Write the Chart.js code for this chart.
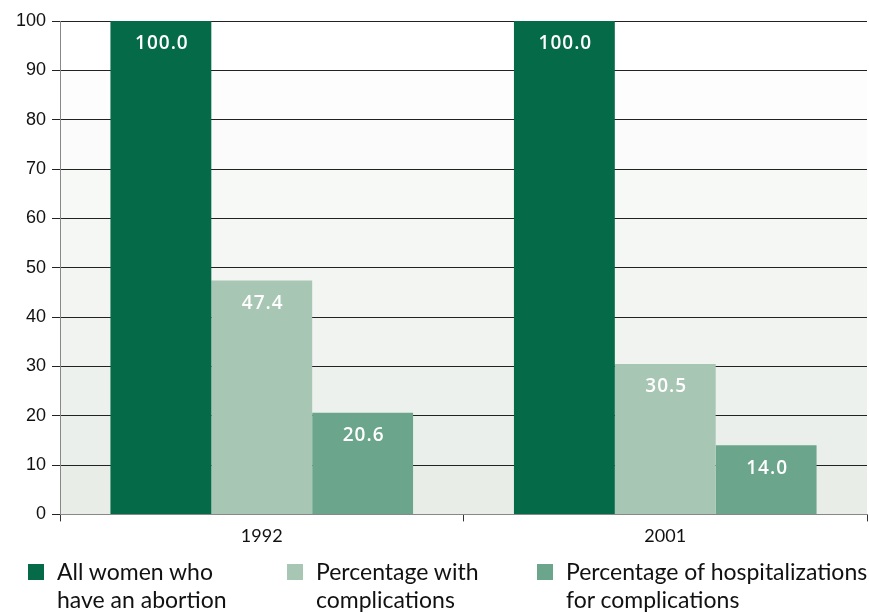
<!DOCTYPE html>
<html>
<head>
<meta charset="utf-8">
<script src="https://cdn.jsdelivr.net/npm/chart.js@4"></script>
<style>
  body { margin: 0; background: #fff; }
  #wrap { position: relative; width: 869px; height: 613px; }
  #legend { position: absolute; left: 0; top: 562px; width: 869px; height: 51px; font-family: Lato, "Open Sans", sans-serif; font-size: 23px; line-height: 28px; color: #111; }
  .item { position: absolute; top: 0; }
  .box { position: absolute; left: 0; top: 2px; width: 16px; height: 16px; }
  .txt { position: absolute; left: 29px; top: -5px; white-space: nowrap; }
</style>
</head>
<body>
<div id="wrap">
  <canvas id="chart" width="869" height="613"></canvas>
  <div id="legend"></div>
</div>
<script>
const years = ['1992', '2001'];
const allWomen = [100.0, 100.0];
const withComplications = [47.4, 30.5];
const hospitalizations = [20.6, 14.0];
const seriesNames = [
  ['All women who', 'have an abortion'],
  ['Percentage with', 'complications'],
  ['Percentage of hospitalizations', 'for complications']
];
const colors = ['#046a47', '#a8c6b4', '#6ba58b'];
const yTicks = [0, 10, 20, 30, 40, 50, 60, 70, 80, 90, 100];

// banded background, white at top fading to pale green-grey
const bands = {
  id: 'bands',
  beforeDraw(chart) {
    const { ctx, chartArea: a, scales: { y } } = chart;
    const n = yTicks.length - 1;
    for (let i = 0; i < n; i++) {
      const t = i / (n - 1);
      const r = Math.round(232 + (255 - 232) * t);
      const g = Math.round(237 + (255 - 237) * t);
      const b = Math.round(232 + (255 - 232) * t);
      const top = y.getPixelForValue(yTicks[i + 1]);
      const bot = y.getPixelForValue(yTicks[i]);
      ctx.fillStyle = `rgb(${r},${g},${b})`;
      ctx.fillRect(a.left, top, a.right - a.left, bot - top);
    }
  }
};

const valueLabels = {
  id: 'valueLabels',
  afterDatasetsDraw(chart) {
    const ctx = chart.ctx;
    ctx.save();
    ctx.fillStyle = '#fff';
    ctx.font = '600 19px "Open Sans", sans-serif';
    ctx.letterSpacing = '1px';
    ctx.textAlign = 'center';
    ctx.textBaseline = 'middle';
    chart.data.datasets.forEach((ds, i) => {
      chart.getDatasetMeta(i).data.forEach((bar, j) => {
        ctx.fillText(ds.data[j].toFixed(1), bar.x + 1, bar.y + 23);
      });
    });
    ctx.restore();
  }
};

const chart = new Chart(document.getElementById('chart'), {
  type: 'bar',
  data: {
    labels: years,
    datasets: [
      { label: seriesNames[0].join(' '), data: allWomen, backgroundColor: colors[0] },
      { label: seriesNames[1].join(' '), data: withComplications, backgroundColor: colors[1] },
      { label: seriesNames[2].join(' '), data: hospitalizations, backgroundColor: colors[2] }
    ]
  },
  options: {
    responsive: false,
    animation: false,
    layout: { padding: { top: 21, right: 2, bottom: 62, left: 0 } },
    datasets: { bar: { categoryPercentage: 0.75, barPercentage: 1.0 } },
    plugins: { legend: { display: false }, tooltip: { enabled: false } },
    scales: {
      x: {
        grid: { offset: true, drawOnChartArea: false, color: '#333', tickLength: 7 },
        border: { color: '#888', width: 1 },
        ticks: { color: '#111', font: { family: 'Lato, "Open Sans", sans-serif', size: 18 }, padding: 4 }
      },
      y: {
        min: 0, max: 100,
        afterBuildTicks(axis) { axis.ticks = yTicks.map(v => ({ value: v })); },
        grid: { color: '#222', lineWidth: 1, tickLength: 8 },
        border: { color: '#888', width: 1 },
        ticks: { color: '#111', font: { family: 'Liberation Sans, Arial', size: 18 }, padding: 6 },
        afterFit(axis) { axis.width = 60; }
      }
    }
  },
  plugins: [bands, valueLabels]
});

const legendLeft = [28, 287, 537];
const legend = document.getElementById('legend');
seriesNames.forEach((lines, i) => {
  const item = document.createElement('div');
  item.className = 'item';
  item.style.left = legendLeft[i] + 'px';
  item.innerHTML = `<div class="box" style="background:${colors[i]}"></div><div class="txt">${lines.join('<br>')}</div>`;
  legend.appendChild(item);
});
</script>
</body>
</html>
